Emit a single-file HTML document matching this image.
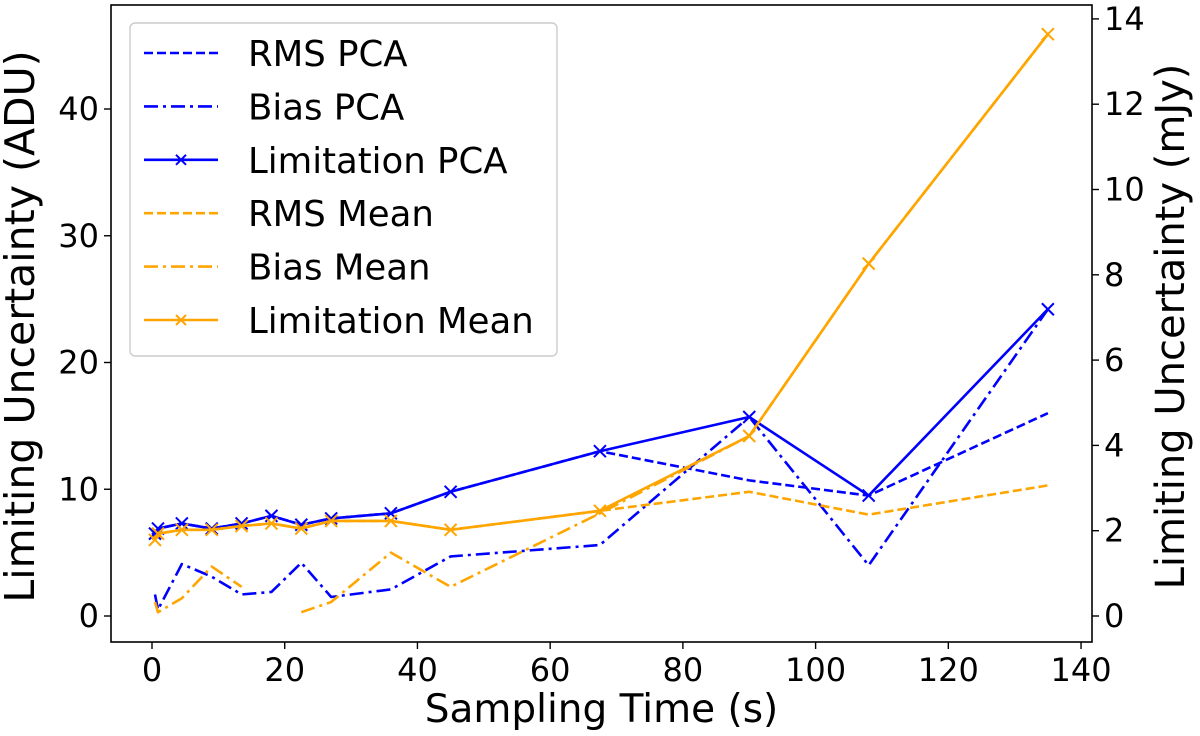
<!DOCTYPE html>
<html><head><meta charset="utf-8"><style>
html,body{margin:0;padding:0;background:#fff;}
svg{display:block;font-family:"DejaVu Sans","Liberation Sans",sans-serif;}
</style></head><body>
<svg id="chart" width="1200" height="736" viewBox="0 0 1200 736"></svg>
<script>
const times=[0.45,0.9,4.5,9,13.5,18,22.5,27,36,45,67.5,90,108,135];
const rmsPCA=[6.5,6.9,7.3,6.9,7.3,7.9,7.2,7.7,8.1,9.8,13.0,10.7,9.5,16.0];
const biasPCA=[1.7,0.5,4.1,3.1,1.7,1.9,4.2,1.5,2.1,4.7,5.6,15.7,4.0,24.2];
const limPCA=[6.5,6.9,7.3,6.9,7.3,7.9,7.2,7.7,8.1,9.8,13.0,15.7,9.5,24.2];
const rmsMean=[6.0,6.5,6.8,6.8,7.1,7.3,6.9,7.5,7.5,6.8,8.3,9.8,8.0,10.3];
const biasMean=[1.1,0.3,1.4,3.9,2.3,null,0.3,1.1,5.0,2.3,8.1,14.2,27.8,45.9];
const limMean=[6.0,6.5,6.8,6.8,7.1,7.3,6.9,7.5,7.5,6.8,8.3,14.2,27.8,45.9];
const xTicks=[0,20,40,60,80,100,120,140];
const yTicks=[0,10,20,30,40];
const y2Ticks=[0,2,4,6,8,10,12,14];

const NS="http://www.w3.org/2000/svg";
const svg=document.getElementById('chart');
const L=111,R=1092,T=5,B=642;
const X=v=>152+v*6.636;
const Y=v=>616-v*12.675;
const Y2=v=>616-v*42.65;
function mk(tag,attrs,parent){const e=document.createElementNS(NS,tag);for(const k in attrs)e.setAttribute(k,attrs[k]);(parent||svg).appendChild(e);return e;}

const blue='#0000ff',orange='#ffa500';
const series=[
 {name:'rms-pca',d:rmsPCA,c:blue,dash:'9,4',m:false},
 {name:'bias-pca',d:biasPCA,c:blue,dash:'14,5,3,5',m:false},
 {name:'limitation-pca',d:limPCA,c:blue,dash:'',m:true},
 {name:'rms-mean',d:rmsMean,c:orange,dash:'9,4',m:false},
 {name:'bias-mean',d:biasMean,c:orange,dash:'14,5,3,5',m:false},
 {name:'limitation-mean',d:limMean,c:orange,dash:'',m:true}
];
series.forEach(s=>{
  const g=mk('g',{});
  
  
  let segs=[],cur=[];
  s.d.forEach((v,i)=>{if(v===null){if(cur.length)segs.push(cur);cur=[];}else cur.push([X(times[i]),Y(v)]);});
  if(cur.length)segs.push(cur);
  segs.forEach(sg=>{
    const p=mk('polyline',{points:sg.map(q=>q.join(',')).join(' '),fill:'none',stroke:s.c,'stroke-width':2.6,'stroke-dasharray':s.dash,'stroke-linejoin':'round'},g);
    
    
  });
  if(s.m){s.d.forEach((v,i)=>{if(v===null)return;const x=X(times[i]),y=Y(v);
    const m=mk('path',{d:`M${x-6},${y-6}L${x+6},${y+6}M${x-6},${y+6}L${x+6},${y-6}`,stroke:s.c,'stroke-width':2},g);
    
    
  });}
});

const frame=mk('rect',{x:L,y:T,width:R-L,height:B-T,fill:'none',stroke:'#000','stroke-width':1.6});



xTicks.forEach(t=>{
  const x=X(t);
  const l=mk('line',{x1:x,y1:B,x2:x,y2:B+7,stroke:'#000','stroke-width':1.4});
  
  
  const tx=mk('text',{x:x,y:B+39,'font-size':32,'text-anchor':'middle'});tx.textContent=t;
  
  
});
yTicks.forEach(t=>{
  const y=Y(t);
  const l=mk('line',{x1:L-7,y1:y,x2:L,y2:y,stroke:'#000','stroke-width':1.4});
  
  
  const tx=mk('text',{x:L-12,y:y+11,'font-size':32,'text-anchor':'end'});tx.textContent=t;
  
  
});
y2Ticks.forEach(t=>{
  const y=Y2(t);
  const l=mk('line',{x1:R,y1:y,x2:R+7,y2:y,stroke:'#000','stroke-width':1.4});
  
  
  const tx=mk('text',{x:R+12,y:y+11,'font-size':32,'text-anchor':'start'});tx.textContent=t;
  
  
});

const xl=mk('text',{x:(L+R)/2,y:722,'font-size':39,'text-anchor':'middle'});xl.textContent='Sampling Time (s)';


const yl=mk('text',{x:0,y:0,'font-size':41,'text-anchor':'middle',transform:`translate(34,${(T+B)/2+3}) rotate(-90)`});yl.textContent='Limiting Uncertainty (ADU)';


const yr=mk('text',{x:0,y:0,'font-size':40,'text-anchor':'middle',transform:`translate(1184,${(T+B)/2+3}) rotate(-90)`});yr.textContent='Limiting Uncertainty (mJy)';



const lg=mk('g',{});


const lb=mk('rect',{x:130,y:23,width:427,height:333,rx:5,fill:'#fff','fill-opacity':0.85,stroke:'#ccc','stroke-width':1.4},lg);


const labels=['RMS PCA','Bias PCA','Limitation PCA','RMS Mean','Bias Mean','Limitation Mean'];
series.forEach((s,i)=>{
  const y=53+i*53.4;
  const e=mk('g',{},lg);
  
  
  mk('line',{x1:144,y1:y,x2:218,y2:y,stroke:s.c,'stroke-width':2.6,'stroke-dasharray':s.dash},e);
  if(s.m)mk('path',{d:`M${181-5},${y-5}L${181+5},${y+5}M${181-5},${y+5}L${181+5},${y-5}`,stroke:s.c,'stroke-width':2},e);
  const t=mk('text',{x:248,y:y+13,'font-size':35.5},e);t.textContent=labels[i];
});
</script>
</body></html>
